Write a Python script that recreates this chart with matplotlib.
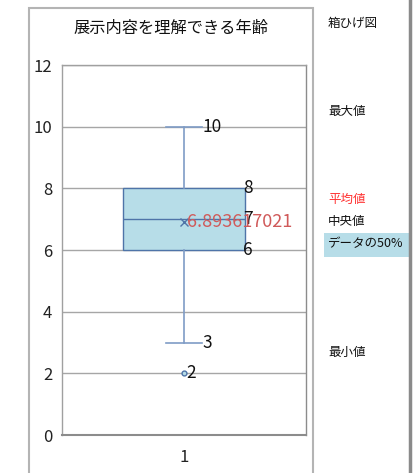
import matplotlib
matplotlib.use('Agg')
import matplotlib.pyplot as plt
from matplotlib.patches import Rectangle
from matplotlib.lines import Line2D

plt.rcParams['font.family'] = ['Noto Sans CJK JP', 'DejaVu Sans']

# five-number summary of the ages
labels = ['1']
q1 = [6]
med = [7]
q3 = [8]
whislo = [3]
whishi = [10]
fliers = [[2]]
means = [6.893617021]

title = '展示内容を理解できる年齢'
yticks = [0, 2, 4, 6, 8, 10, 12]

W, H = 414, 473
fig = plt.figure(figsize=(W / 100, H / 100), dpi=100)

def px(x, y):
    return x / W, 1 - y / H

# chart frame and side line
fig.patches.append(Rectangle(px(29, 490), (313 - 29) / W, (490 - 8) / H,
                             transform=fig.transFigure, fill=False,
                             edgecolor='#b4b4b4', lw=1.5))
fig.lines.append(Line2D([410 / W, 410 / W], [0, 1], transform=fig.transFigure,
                        color='#8a8a8a', lw=2.5))

ax = fig.add_axes([62 / W, 1 - 435 / H, (306 - 62) / W, (435 - 65) / H])

stats = []
for i in range(len(labels)):
    stats.append(dict(label=labels[i], q1=q1[i], med=med[i], q3=q3[i],
                      whislo=whislo[i], whishi=whishi[i], fliers=fliers[i],
                      mean=means[i]))

edge = '#4f74a8'
ax.bxp(stats, positions=[1], widths=0.5, capwidths=0.15, patch_artist=True,
       showmeans=True, showfliers=True,
       boxprops=dict(facecolor='#b7dde8', edgecolor=edge, lw=1.0),
       medianprops=dict(color=edge, lw=1.0),
       whiskerprops=dict(color='#7f9cc6', lw=1.2),
       capprops=dict(color='#7f9cc6', lw=1.2),
       meanprops=dict(marker='x', markeredgecolor=edge, markersize=6, markeredgewidth=1.0),
       flierprops=dict(marker='o', markersize=3.5, markerfacecolor='#b7dde8',
                       markeredgecolor=edge, markeredgewidth=1.0),
       zorder=3)

ax.set_xlim(0.5, 1.5)
ax.set_ylim(0, 12)
ax.set_yticks(yticks)
ax.set_xticks([1])
ax.set_xticklabels(labels)
ax.tick_params(length=0, labelsize=12, colors='#222222')
ax.tick_params(axis='y', pad=7)
ax.tick_params(axis='x', pad=10)
ax.grid(axis='y', color='#a6a6a6', lw=1.0, zorder=0)
for s in ax.spines.values():
    s.set_color('#a0a0a0')
    s.set_linewidth(1.0)
ax.spines['right'].set_color('#8c8c8c')
ax.spines['bottom'].set_color('#8c8c8c')
ax.spines['bottom'].set_linewidth(1.5)

# value labels (the mean label runs over the median one)
lab = dict(fontsize=12.5, va='center', ha='left', color='#111111', zorder=5)
for i in range(len(labels)):
    x = i + 1
    ax.text(x + 0.074, whishi[i], f'{whishi[i]}', **lab)
    ax.text(x + 0.243, q3[i], f'{q3[i]}', **lab)
    ax.text(x + 0.243, med[i], f'{med[i]}', **lab)
    ax.text(x + 0.243, q1[i], f'{q1[i]}', **lab)
    ax.text(x + 0.074, whislo[i], f'{whislo[i]}', **lab)
    ax.text(x + 0.01, fliers[i][0], f'{fliers[i][0]}', **lab)
    ax.text(x + 0.012, means[i], f'{means[i]}', fontsize=13, va='center',
            ha='left', color='#d05a5a', zorder=6)

fig.text(*px(171, 28), title, fontsize=11.7, ha='center', va='center', color='#111111')

# legend notes on the right
side = dict(fontsize=9, ha='left', va='center', color='#111111')
fig.text(*px(328, 23), '箱ひげ図', **side)
fig.text(*px(328, 112), '最大値', **side)
fig.text(*px(328, 199), '平均値', fontsize=9, ha='left', va='center', color='#ff3030')
fig.text(*px(328, 221), '中央値', **side)
fig.patches.append(Rectangle(px(324, 257), (409 - 324) / W, (257 - 233) / H,
                             transform=fig.transFigure, facecolor='#b7dde8',
                             edgecolor='none'))
fig.text(*px(328, 244), 'データの50%', **side)
fig.text(*px(328, 352), '最小値', **side)

fig.savefig('out.png', dpi=100)
